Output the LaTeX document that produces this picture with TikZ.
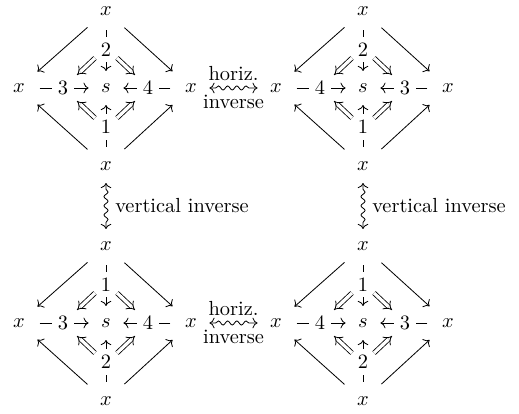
\documentclass[tikz,border=0pt]{standalone}
\usetikzlibrary{arrows.meta, calc, decorations.pathmorphing}

\begin{document}
\begin{tikzpicture}[x=0.49pt, y=-0.49pt, >={Computer Modern Rightarrow}]
    \tikzset{
        obj/.style={inner sep=6pt},
        lbl/.style={fill=white, inner sep=3pt},
        arr/.style={->},
        leg/.style={->, shorten <=1pt},
        cell/.style={double, double distance=1.6pt, -{Implies}},
        inv/.style={<->, decorate, decoration={snake, amplitude=1pt, segment length=4.5pt, pre length=3pt, post length=3pt}}
    }
    \useasboundingbox (0,0) rectangle (519,414);

    % --- Los cuatro rombos ---
    \foreach \n/\cx/\cy/\lt/\ll/\lr/\lb in {1/106/88/2/3/4/1, 2/363/88/2/4/3/1, 3/106/323/1/3/4/2, 4/363/323/1/4/3/2}{
        \node [obj] (s\n) at (\cx,\cy) {$s$};
        \node [obj] (t\n) at ($(s\n)+(0,-77)$) {$x$};
        \node [obj] (b\n) at ($(s\n)+(0,78)$) {$x$};
        \node [obj] (l\n) at ($(s\n)+(-87,0)$) {$x$};
        \node [obj] (r\n) at ($(s\n)+(85,0)$) {$x$};

        % flechas etiquetadas hacia s
        \draw [leg] (t\n) -- node[lbl] {$\lt$} (s\n);
        \draw [leg] (l\n) -- node[lbl] {$\ll$} (s\n);
        \draw [leg] (r\n) -- node[lbl] {$\lr$} (s\n);
        \draw [leg] (b\n) -- node[lbl] {$\lb$} (s\n);

        % lados del rombo
        \draw [arr] (t\n) -- (l\n);
        \draw [arr] (t\n) -- (r\n);
        \draw [arr] (b\n) -- (l\n);
        \draw [arr] (b\n) -- (r\n);

        % 2-celdas
        \coordinate (ul_a\n) at ($(s\n)+(-11,-30)$);
        \coordinate (ul_b\n) at ($(s\n)+(-29,-13)$);
        \coordinate (ur_a\n) at ($(s\n)+(11,-30)$);
        \coordinate (ur_b\n) at ($(s\n)+(29,-13)$);
        \coordinate (dl_a\n) at ($(s\n)+(-11,30)$);
        \coordinate (dl_b\n) at ($(s\n)+(-29,13)$);
        \coordinate (dr_a\n) at ($(s\n)+(11,30)$);
        \coordinate (dr_b\n) at ($(s\n)+(29,13)$);
        \draw [cell] (ul_a\n) -- (ul_b\n);
        \draw [cell] (ur_a\n) -- (ur_b\n);
        \draw [cell] (dl_a\n) -- (dl_b\n);
        \draw [cell] (dr_a\n) -- (dr_b\n);
    }

    % --- Inversas ---
    \draw [inv] (r1) -- node[above] {horiz.} node[below] {inverse} (l2);
    \draw [inv] (r3) -- node[above] {horiz.} node[below] {inverse} (l4);
    \draw [inv] (b1) -- node[right=1pt] {vertical inverse} (t3);
    \draw [inv] (b2) -- node[right=1pt] {vertical inverse} (t4);
\end{tikzpicture}
\end{document}
